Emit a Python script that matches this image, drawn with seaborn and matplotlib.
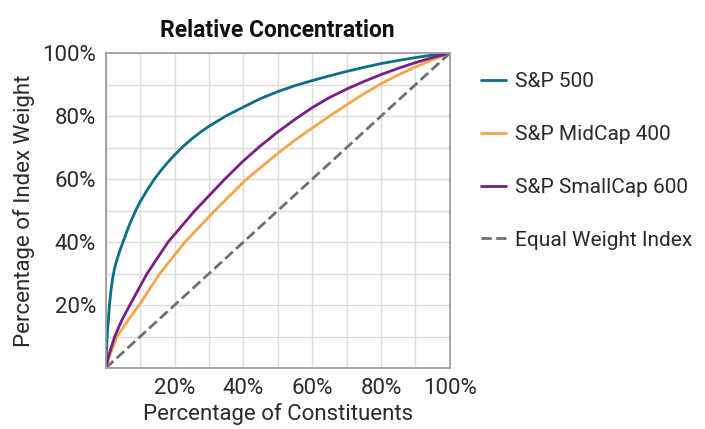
import matplotlib
matplotlib.use("Agg")
import matplotlib.pyplot as plt
import matplotlib.ticker as mticker
import seaborn as sns
import pandas as pd

# Values (percent of constituents -> percent of index weight)
sp500_x = [0, 0.4, 1, 1.5, 2, 2.5, 3, 4, 5, 6, 7, 8, 9, 10, 12, 14, 16, 18, 20,
           22.5, 25, 27.5, 30, 35, 40, 45, 50, 55, 60, 65, 70, 75, 80, 85, 90, 95, 100]
sp500_y = [0, 10, 19, 24.5, 28.5, 31.3, 33.5, 37, 40, 43, 45.8, 48.3, 50.7, 52.8, 56.5, 59.8, 62.7, 65.3, 67.7,
           70.4, 72.8, 74.9, 76.8, 80.1, 82.9, 85.6, 87.8, 89.7, 91.3, 92.8, 94.2, 95.5, 96.7, 97.7, 98.6, 99.4, 100]

mid400_x = [0, 1.5, 3.3, 6.5, 9.7, 15.7, 23, 31.7, 40.9, 50.6, 55, 60, 65, 70, 75, 80, 85, 90, 95, 100]
mid400_y = [0, 5, 10, 15.2, 20, 30, 40, 50, 60, 68.7, 72.4, 76.2, 80.0, 83.6, 87.1, 90.3, 93.1, 95.6, 97.9, 100]

small600_x = [0, 1, 2.6, 4.7, 7, 12, 18.1, 25.9, 34.6, 40, 45, 50, 55, 60, 65, 70, 75, 80, 85, 90, 95, 100]
small600_y = [0, 4.5, 10, 15.3, 20, 30, 40, 50, 60, 65.8, 70.6, 75, 79, 82.7, 85.9, 88.6, 91, 93.2, 95.2, 97, 98.6, 100]

equal_x = [0, 100]
equal_y = [0, 100]

series = [
    ("S&P 500", sp500_x, sp500_y, "#0b6f86", "-"),
    ("S&P MidCap 400", mid400_x, mid400_y, "#f5a64c", "-"),
    ("S&P SmallCap 600", small600_x, small600_y, "#7a1f83", "-"),
    ("Equal Weight Index", equal_x, equal_y, "#707070", "--"),
]

sns.set_theme(style="white")
plt.rcParams['font.family'] = ['Roboto', 'DejaVu Sans']

fig = plt.figure(figsize=(7.05, 4.29), dpi=100)
ax = fig.add_axes([0.150, 0.142, 0.488, 0.734])

for name, xs, ys, color, ls in series:
    df = pd.DataFrame({"x": xs, "y": ys})
    sns.lineplot(data=df, x="x", y="y", ax=ax, color=color, linestyle=ls,
                 linewidth=2, label=name, estimator=None, sort=False)

ax.set_xlim(0, 100)
ax.set_ylim(0, 100)
ax.xaxis.set_major_locator(mticker.MultipleLocator(10))
ax.yaxis.set_major_locator(mticker.MultipleLocator(10))
ax.grid(True, color="#dcdcdc", linewidth=1)
ax.set_axisbelow(True)

def pct_fmt(v, pos):
    v = int(round(v))
    return f"{v}%" if v > 0 and v % 20 == 0 else ""

ax.xaxis.set_major_formatter(mticker.FuncFormatter(pct_fmt))
ax.yaxis.set_major_formatter(mticker.FuncFormatter(pct_fmt))
ax.tick_params(axis="both", length=0, labelsize=16, colors="#2a2a2a", pad=7)

for s in ax.spines.values():
    s.set_color("#9a9a9a")
    s.set_linewidth(1.2)

ax.set_xlabel("Percentage of Constituents", fontsize=16, color="#2a2a2a", labelpad=3)
ax.set_ylabel("Percentage of Index Weight", fontsize=16, color="#2a2a2a", labelpad=5)
ax.set_title("Relative Concentration", fontsize=16.5, fontweight="bold", color="#111111", pad=12)

handles, labels = ax.get_legend_handles_labels()
ax.get_legend().remove()
fig.legend(handles, labels, loc="upper left", bbox_to_anchor=(0.656, 0.875),
           frameon=False, fontsize=15, labelspacing=1.62, handlelength=1.2,
           handletextpad=0.4, labelcolor="#2a2a2a")

fig.savefig("out.png", dpi=100)
